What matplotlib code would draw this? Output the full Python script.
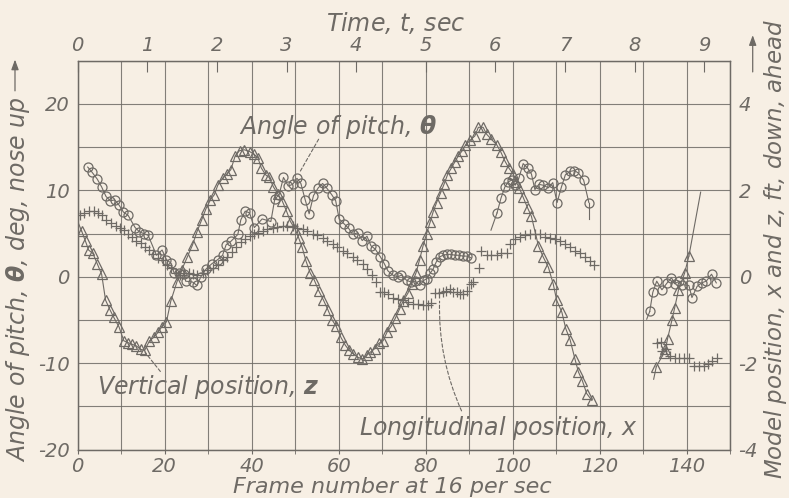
import matplotlib
matplotlib.use("Agg")
from matplotlib import pyplot as plt
from matplotlib.ticker import MultipleLocator

# angle of pitch, theta [deg] (circles), three runs
pitch_frames = [
    [2.3, 3.3, 4.5, 5.5, 6.5, 7.5, 8.5, 9.5, 10.5, 11.6, 13.2, 14.2, 15.2, 16.2,
     18.1, 19.4, 20.4, 21.4, 22.2, 23.3, 24.5, 24.8, 26.4, 27.4, 28.3, 29.5,
     30.8, 32.2, 33.3, 34.1, 35.2, 36.8, 37.5, 38.5, 39.5, 40.6, 42.4, 44.4,
     45.3, 46.3, 47.3, 48.4, 49.4, 50.4, 51.3, 52.3, 53.2, 54.2, 55.3, 56.3,
     57.2, 58.4, 59.3, 60.1, 61.3, 62.3, 63.2, 64.4, 65.4, 66.5, 67.4, 68.4,
     69.6, 70.5, 71.3, 72.4, 73.6, 74.4, 75.6, 76.6, 77.5, 78.6, 79.6, 80.3,
     81.0, 81.7, 82.4, 83.2, 84.0, 84.9, 85.8, 86.7, 87.6, 88.5, 89.4, 90.4],
    [96.4, 97.3, 98.2, 99.0, 99.8, 100.6, 101.4, 102.4, 103.4, 104.3, 105.1,
     106.0, 107.0, 108.2, 109.2, 110.2, 111.2, 112.1, 113.2, 114.2, 115.1,
     116.3, 117.5],
    [131.5, 132.2, 133.1, 134.3, 135.5, 136.5, 137.2, 138.3, 138.9, 140.5,
     141.2, 142.4, 143.4, 144.5, 145.7, 146.8],
]
pitch_deg = [
    [12.7, 12.1, 11.3, 10.4, 9.3, 8.8, 8.9, 8.3, 7.5, 7.1, 5.7, 5.2, 5.0, 4.8,
     2.5, 3.1, 2.0, 1.6, 0.4, 0.5, 0.3, -0.5, -0.6, -1.0, 0.0, 0.9,
     1.5, 2.0, 2.5, 3.7, 4.1, 4.9, 6.6, 7.6, 7.4, 5.7, 6.7, 6.4,
     9.0, 9.5, 11.5, 10.5, 10.7, 11.4, 10.8, 8.9, 7.3, 9.4, 10.3, 10.8,
     10.3, 9.5, 8.8, 6.7, 6.1, 5.6, 4.9, 5.1, 4.2, 4.7, 3.6, 3.2,
     2.3, 1.5, 0.7, 0.2, 0.0, 0.2, -0.4, -0.6, -0.5, -1.0, -0.4, -0.2,
     0.4, 0.9, 1.7, 2.3, 2.5, 2.6, 2.6, 2.5, 2.5, 2.4, 2.4, 2.2],
    [7.4, 9.1, 10.4, 11.0, 11.2, 10.6, 11.4, 13.1, 12.6, 11.9, 10.1,
     10.7, 10.6, 10.3, 10.9, 8.6, 10.4, 11.8, 12.2, 12.3, 12.0,
     11.2, 8.6],
    [-4.0, -1.8, -0.5, -1.5, -0.7, -0.1, -0.8, -0.5, -0.9, -1.0,
     -2.4, -1.1, -0.7, -0.5, 0.3, -0.7],
]
pitch_stub_frames = [[95.0, 96.4], [117.5, 117.5], [130.8, 131.5]]
pitch_stub_deg = [[5.4, 7.4], [8.6, 6.7], [-4.9, -4.0]]

# vertical position, z [ft] (triangles), two runs
z_frames = [
    [0.9, 1.8, 2.5, 3.5, 4.5, 5.5, 6.4, 7.4, 8.3, 9.5, 10.6, 11.5, 12.5, 13.5,
     14.5, 15.4, 16.5, 17.5, 18.5, 19.3, 20.4, 21.4, 22.8, 23.9, 25.2, 26.4,
     27.4, 28.5, 29.5, 30.5, 31.4, 32.2, 33.3, 34.3, 35.2, 36.2, 37.2, 38.3,
     39.5, 40.5, 41.4, 42.2, 43.2, 44.0, 45.0, 46.0, 47.0, 48.0, 48.9, 50.0,
     50.8, 51.6, 52.5, 53.4, 54.4, 55.4, 56.5, 57.5, 58.5, 59.4, 60.5, 61.5,
     62.4, 63.3, 64.4, 65.4, 66.4, 67.3, 68.3, 69.2, 70.2, 71.1, 72.1, 73.0,
     74.0, 74.8, 75.9, 76.8, 77.8, 78.6, 79.4, 80.2, 81.0, 81.7, 82.5, 83.4,
     84.2, 85.0, 85.9, 86.7, 87.5, 88.4, 89.1, 90.2, 91.3, 92.1, 93.2, 94.0,
     95.1, 96.3, 97.3, 98.2, 99.1, 100.1, 100.8, 101.5, 102.4, 103.4, 104.3,
     105.9, 107.0, 108.2, 109.3, 110.1, 111.3, 112.2, 113.2, 114.3, 115.1,
     116.0, 117.0, 118.2],
    [133.0, 134.7, 135.1, 135.6, 136.6, 137.2, 138.1, 139.5, 140.5],
]
z_ft = [
    [1.06, 0.82, 0.62, 0.54, 0.30, 0.06, -0.54, -0.76, -0.94, -1.16, -1.48,
     -1.52, -1.56, -1.60, -1.68, -1.70, -1.48, -1.40, -1.28, -1.16, -1.04,
     -0.56, -0.12, 0.16, 0.46, 0.74, 1.04, 1.32, 1.58, 1.78, 1.90, 2.12,
     2.28, 2.38, 2.48, 2.80, 2.92, 2.94, 2.90, 2.84, 2.76, 2.52, 2.36, 2.30,
     2.08, 1.92, 1.76, 1.52, 1.28, 1.10, 0.90, 0.68, 0.36, 0.10, -0.08,
     -0.32, -0.54, -0.76, -1.00, -1.14, -1.40, -1.58, -1.70, -1.78, -1.86,
     -1.90, -1.82, -1.74, -1.66, -1.54, -1.48, -1.28, -1.14, -0.96, -0.74,
     -0.56, -0.38, -0.16, 0.10, 0.40, 0.72, 1.00, 1.26, 1.50, 1.72, 1.94,
     2.14, 2.36, 2.52, 2.66, 2.80, 2.92, 3.04, 3.16, 3.26, 3.46, 3.46, 3.30,
     3.18, 3.06, 2.88, 2.68, 2.52, 2.38, 2.20, 2.06, 1.84, 1.60, 1.40,
     0.72, 0.46, 0.22, -0.16, -0.54, -0.82, -1.20, -1.46, -1.90, -2.20,
     -2.40, -2.70, -2.86],
    [-2.08, -1.77, -1.68, -1.43, -1.00, -0.73, -0.31, 0.08, 0.48],
]
z_stub_frames = [[0.0, 0.9], [132.4, 133.0], [140.5, 143.2]]
z_stub_ft = [[1.28, 1.06], [-2.37, -2.08], [0.48, 1.96]]

# longitudinal position, x [ft] (crosses), three runs
x_frames = [
    [0.5, 1.4, 2.5, 3.7, 4.7, 5.6, 6.6, 7.7, 8.7, 9.7, 10.6, 11.6, 12.5, 13.5,
     14.5, 15.4, 16.4, 17.4, 18.5, 19.5, 20.5, 21.4, 22.5, 23.5, 24.5, 25.6,
     26.5, 27.5, 28.7, 29.8, 31.0, 32.2, 33.3, 34.3, 35.4, 36.4, 37.5, 38.5,
     39.5, 40.6, 41.5, 42.5, 43.6, 44.8, 45.9, 47.1, 48.2, 49.4, 50.5, 51.7,
     52.8, 54.0, 55.1, 56.3, 57.4, 58.6, 59.7, 60.9, 62.0, 63.2, 64.3, 65.5,
     66.6, 67.7, 68.5, 69.4, 70.3, 71.3, 72.4, 73.6, 74.8, 75.9, 77.1, 78.2,
     79.4, 80.5, 81.3, 82.1, 83.0, 84.0, 84.7, 85.5, 86.3, 87.1, 87.9, 88.6,
     89.5, 90.3, 90.9, 92.3],
    [92.8, 94.0, 95.1, 96.3, 97.4, 98.6, 99.4, 100.5, 101.6, 102.8, 103.9,
     105.1, 106.2, 107.4, 108.5, 109.7, 110.8, 112.0, 113.1, 114.3, 115.4,
     116.6, 117.7, 118.6],
    [133.1, 134.1, 134.4, 135.2, 136.2, 137.4, 138.3, 139.3, 140.6, 141.6,
     142.8, 143.9, 144.9, 145.8, 147.0],
]
x_ft = [
    [1.42, 1.48, 1.52, 1.52, 1.48, 1.42, 1.32, 1.24, 1.18, 1.14, 1.08, 1.00,
     0.92, 0.82, 0.78, 0.70, 0.62, 0.52, 0.44, 0.38, 0.28, 0.20, 0.08, 0.04,
     0.08, 0.10, 0.06, 0.04, 0.08, 0.16, 0.20, 0.28, 0.38, 0.46, 0.58, 0.70,
     0.80, 0.88, 0.94, 1.00, 1.02, 1.06, 1.10, 1.14, 1.16, 1.18, 1.18, 1.18,
     1.14, 1.10, 1.06, 1.00, 0.96, 0.90, 0.82, 0.76, 0.68, 0.60, 0.54, 0.46,
     0.38, 0.30, 0.18, 0.04, -0.12, -0.36, -0.36, -0.40, -0.50, -0.52, -0.54,
     -0.58, -0.62, -0.64, -0.66, -0.66, -0.60, -0.38, -0.38, -0.34, -0.32,
     -0.28, -0.36, -0.36, -0.40, -0.40, -0.32, -0.16, -0.12, 0.20],
    [0.60, 0.50, 0.50, 0.50, 0.54, 0.56, 0.76, 0.88, 0.92, 0.96, 0.98, 1.00,
     0.98, 0.92, 0.90, 0.88, 0.82, 0.76, 0.68, 0.60, 0.54, 0.46, 0.36, 0.28],
    [-1.52, -1.50, -1.72, -1.66, -1.83, -1.87, -1.87, -1.87, -1.87, -2.06,
     -2.06, -2.06, -2.02, -1.95, -1.87],
]

ink = "#6e6a65"
paper = "#f7efe4"

plt.rcParams["font.family"] = "DejaVu Sans"
plt.rcParams["font.style"] = "oblique"
plt.rcParams["mathtext.fontset"] = "dejavusans"
plt.rcParams["axes.unicode_minus"] = False

fig = plt.figure(figsize=(7.89, 4.98), dpi=100, facecolor=paper)
ax = fig.add_axes([0.0985, 0.097, 0.827, 0.781])
ax.set_facecolor(paper)
ax2 = ax.twinx()

ax.set_xlim(0, 150)
ax.set_ylim(-20, 25)
ax2.set_ylim(-4, 5)

ax.xaxis.set_minor_locator(MultipleLocator(10))
ax.yaxis.set_minor_locator(MultipleLocator(5))
ax.grid(which="both", color=ink, linewidth=0.8, alpha=0.85)
ax.set_axisbelow(True)

ax.set_xticks(range(0, 141, 20))
ax.set_yticks([-20, -10, 0, 10, 20])
ax2.set_yticks([-4, -2, 0, 2, 4])
ax.tick_params(axis="x", which="both", direction="out", length=3, color=ink,
               labelsize=14, labelcolor=ink, pad=2)
ax.tick_params(axis="y", which="both", length=0, labelsize=14, labelcolor=ink, pad=6)
ax2.tick_params(axis="y", length=0, labelsize=14, labelcolor=ink, pad=6)
for a in (ax, ax2):
    for s in a.spines.values():
        s.set_color(ink)
        s.set_linewidth(0.9)

top = ax.secondary_xaxis("top", functions=(lambda f: f / 16.0, lambda t: t * 16.0))
top.set_xticks(range(0, 10))
top.tick_params(direction="in", length=8, color=ink, labelsize=14, labelcolor=ink, pad=4)
top.spines["top"].set_visible(False)

# pitch
for f, v in zip(pitch_frames, pitch_deg):
    ax.plot(f, v, color=ink, linewidth=0.8, marker="o", markersize=6.5,
            markerfacecolor="none", markeredgecolor=ink, markeredgewidth=0.9)
for f, v in zip(pitch_stub_frames, pitch_stub_deg):
    ax.plot(f, v, color=ink, linewidth=0.8)

# vertical position
for f, v in zip(z_frames, z_ft):
    ax2.plot(f, v, color=ink, linewidth=0.8, marker="^", markersize=6.5,
             markerfacecolor="none", markeredgecolor=ink, markeredgewidth=0.9)
for f, v in zip(z_stub_frames, z_stub_ft):
    ax2.plot(f, v, color=ink, linewidth=0.8)

# longitudinal position
for f, v in zip(x_frames, x_ft):
    ax2.plot(f, v, linestyle="none", marker="+", markersize=7,
             markeredgecolor=ink, markeredgewidth=0.9)

# curve labels with dashed leaders
lead = dict(arrowstyle="-", linestyle=(0, (3, 2)), color=ink, linewidth=0.8)
ax.text(37.0, 17.3, r"Angle of pitch, $\mathbfit{\theta}$", fontsize=17,
        color=ink, va="center", ha="left")
ax.annotate("", xy=(50.8, 11.9), xytext=(55.7, 16.2), arrowprops=lead)
ax.text(4.4, -12.7, r"Vertical position, $\mathbfit{z}$", fontsize=17,
        color=ink, va="center", ha="left")
ax.annotate("", xy=(15.1, -8.5), xytext=(19.4, -11.2), arrowprops=lead)
ax.text(128.6, -17.5, r"Longitudinal position, $\mathit{x}$", fontsize=17,
        color=ink, va="center", ha="right")
ax.annotate("", xy=(83.2, -2.5), xytext=(88.5, -15.8),
            arrowprops=dict(lead, connectionstyle="arc3,rad=-0.12"))

# axis titles
fig.text(0.502, 0.954, r"Time, $t$, sec", fontsize=17, color=ink, ha="center", va="center")
fig.text(0.497, 0.002, "Frame number at 16 per sec", fontsize=16, color=ink,
         ha="center", va="bottom")
fig.text(0.023, 0.44, r"Angle of pitch, $\mathbfit{\theta}$, deg, nose up",
         fontsize=17, color=ink, rotation=90, ha="center", va="center")
fig.text(0.983, 0.50, r"Model position, $x$ and $z$, ft, down, ahead",
         fontsize=16.5, color=ink, rotation=90, ha="center", va="center")
fig.add_artist(matplotlib.patches.FancyArrowPatch(
    (0.019, 0.812), (0.019, 0.886), transform=fig.transFigure,
    arrowstyle="-|>,head_length=6,head_width=2.2", color=ink, linewidth=0.9))
fig.add_artist(matplotlib.patches.FancyArrowPatch(
    (0.954, 0.85), (0.954, 0.935), transform=fig.transFigure,
    arrowstyle="-|>,head_length=6,head_width=2.2", color=ink, linewidth=0.9))

fig.savefig("out.png", dpi=100, facecolor=paper)
